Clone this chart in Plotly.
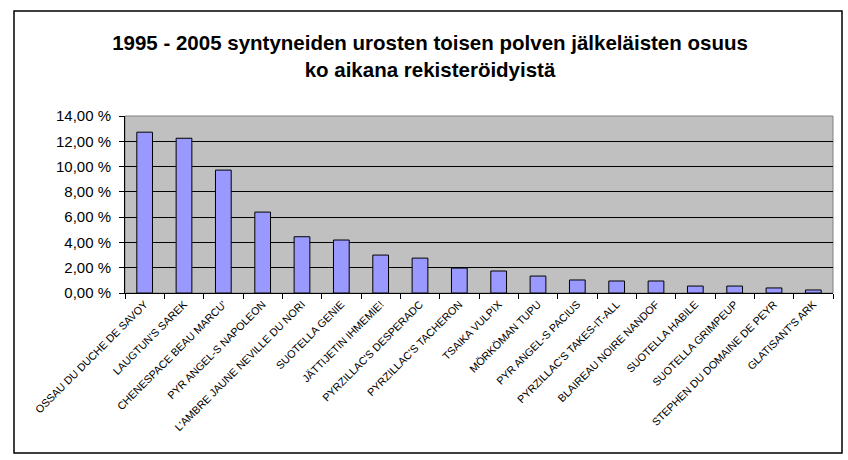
import plotly.graph_objects as go

categories = [
    "OSSAU DU DUCHE DE SAVOY",
    "LAUGTUN'S SAREK",
    "CHENESPACE BEAU MARCU'",
    "PYR ANGEL-S NAPOLEON",
    "L'AMBRE JAUNE NEVILLE DU NORI",
    "SUOTELLA GENIE",
    "JÄTTIJETIN IHMEMIE!",
    "PYRZILLAC'S DESPERADC",
    "PYRZILLAC'S TACHERON",
    "TSAIKA VULPIX",
    "MÖRKÖMAN TUPU",
    "PYR ANGEL-S PACIUS",
    "PYRZILLAC'S TAKES-IT-ALL",
    "BLAIREAU NOIRE NANDOF",
    "SUOTELLA HABILE",
    "SUOTELLA GRIMPEUP",
    "STEPHEN DU DOMAINE DE PEYR",
    "GLATISANT'S ARK",
]
values = [12.72, 12.24, 9.72, 6.40, 4.45, 4.19, 3.00, 2.76, 1.97, 1.74,
          1.34, 1.03, 0.95, 0.95, 0.55, 0.55, 0.40, 0.24]
ytick_vals = [0, 2, 4, 6, 8, 10, 12, 14]
ytick_text = ["0,00 %", "2,00 %", "4,00 %", "6,00 %", "8,00 %", "10,00 %", "12,00 %", "14,00 %"]

W, H = 848, 460
L, R, T, B = 125, 15, 116, 167
pw, ph = W - L - R, H - T - B

fig = go.Figure(go.Bar(
    x=categories, y=values,
    marker=dict(color="#9999FF", line=dict(color="black", width=1)),
))

fig.update_layout(
    width=W, height=H,
    margin=dict(l=L, r=R, t=T, b=B),
    paper_bgcolor="white",
    plot_bgcolor="#C0C0C0",
    bargap=0.6,
    showlegend=False,
    font=dict(family="Liberation Sans, Arial", color="black"),
    title=dict(
        text="<b>1995 - 2005 syntyneiden urosten toisen polven jälkeläisten osuus<br>ko aikana rekisteröidyistä</b>",
        x=430 / W, xanchor="center", xref="container",
        y=1 - 50 / H, yanchor="middle", yref="container",
        font=dict(family="Liberation Sans, Arial", size=20.5, color="black"),
    ),
    xaxis=dict(
        tickangle=-45, tickfont=dict(size=10.7),
        showline=True, linecolor="black", linewidth=1,
        ticks="outside", ticklen=5, tickcolor="black", tickson="boundaries",
        showgrid=False,
    ),
    yaxis=dict(
        range=[0, 14], tickvals=ytick_vals, ticktext=ytick_text,
        tickfont=dict(size=15),
        showline=True, linecolor="black", linewidth=1,
        ticks="outside", ticklen=5, tickcolor="black",
        ticklabelstandoff=5,
        showgrid=True, gridcolor="black", gridwidth=1,
        zeroline=False,
    ),
    shapes=[
        dict(type="rect", xref="paper", yref="paper",
             x0=0, x1=1, y0=0, y1=1,
             line=dict(color="#808080", width=1), layer="below"),
        dict(type="rect", xref="paper", yref="paper",
             x0=(14 - L) / pw, x1=(842 - L) / pw,
             y0=(H - B - 453) / ph, y1=(H - B - 11) / ph,
             line=dict(color="black", width=1.5), layer="above"),
    ],
)

fig.write_html("out.html")
